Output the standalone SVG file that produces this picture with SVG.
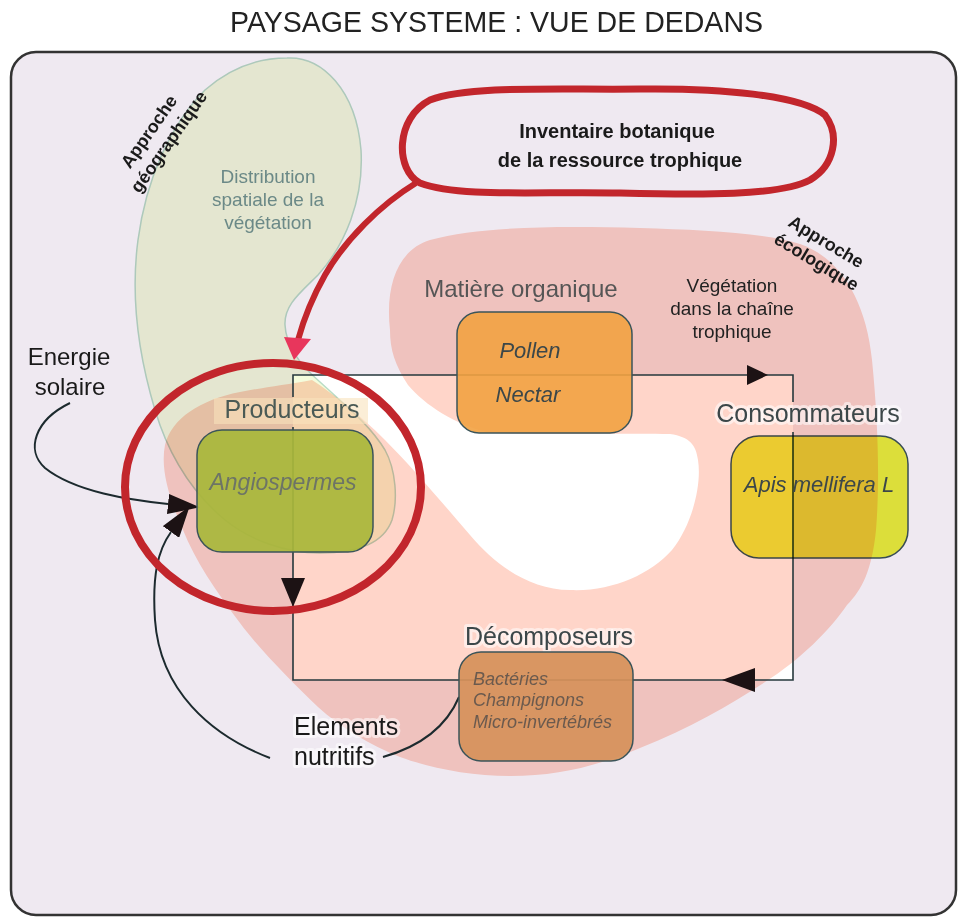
<svg xmlns="http://www.w3.org/2000/svg" width="959" height="919" viewBox="0 0 959 919">
<defs>
<style>
text{font-family:"Liberation Sans",Arial,sans-serif}
.lbl{fill:#3c4749}
.it{font-style:italic}
.halo{paint-order:stroke;stroke:#ffffff;stroke-opacity:0.55;stroke-width:6;stroke-linejoin:round}
.box{stroke:#3b5459;stroke-width:1.5}
.conn{fill:none;stroke:#26383c;stroke-width:1.6}
.ah{fill:#1c1214}
.curve{fill:none;stroke:#1c2a2e;stroke-width:2}
.red{fill:none;stroke:#c2262c;stroke-width:7}
.mult{mix-blend-mode:multiply}
.appr{font-size:18px;font-weight:bold;fill:#1a1a1a;text-anchor:middle}
</style>
<marker id="blk" markerUnits="userSpaceOnUse" viewBox="0 0 32 20" refX="0" refY="10" markerWidth="32" markerHeight="20" orient="auto">
<path d="M0,0 L32,10 L0,20 Z" fill="#1c1214"/>
</marker>
</defs>

<rect width="959" height="919" fill="#ffffff"/>
<text x="230" y="32" font-size="30" fill="#222" textLength="533" lengthAdjust="spacingAndGlyphs">PAYSAGE SYSTEME : VUE DE DEDANS</text>

<g id="frame">
<rect x="11" y="52" width="945" height="863" rx="25" fill="#efe9f1" stroke="#333" stroke-width="2.5"/>
</g>

<g id="zones">
<rect id="inner-white" x="293" y="375" width="500" height="305" fill="#ffffff"/>
<path id="approche-ecologique-zone" class="mult" fill="#ffd5c9" d="M390,330 C385,285 398,250 430,240 C480,226 560,226 640,228 C700,230 760,232 800,244 C840,258 866,300 872,360 C878,420 880,480 876,530 C872,570 862,590 847,605 C830,630 800,660 765,682 C730,705 690,728 640,748 C600,765 560,776 510,776 C470,776 430,768 400,757 C370,745 340,727 318,707 C290,680 260,650 240,623 C215,590 195,560 183,530 C170,500 160,470 165,445 C172,418 200,400 240,392 C260,388 285,385 312,380 C335,395 360,415 385,440 C410,465 440,500 470,535 C495,565 530,590 570,590 C610,592 650,575 672,550 C692,525 702,485 698,460 C696,445 690,437 670,434 C630,433 560,435 490,433 C455,425 425,405 408,385 C395,365 390,350 390,330 Z"/>
<path id="approche-geographique-zone" class="mult" fill="#f4fcdc" stroke="#b9dcc6" stroke-width="1.5" d="M287,58 C322,56 356,90 361,150 C364,200 345,245 318,275 C300,293 284,305 285,325 C286,345 300,365 320,382 C345,405 370,425 385,450 C396,470 398,500 392,520 C383,545 355,553 320,553 C285,553 250,540 225,520 C195,495 170,460 155,410 C140,360 130,300 138,240 C146,180 170,125 205,90 C230,68 258,58 287,58 Z"/>
</g>

<g id="zone-labels">
<g transform="translate(154,135) rotate(-55)">
<text class="appr" x="0" y="0">Approche</text>
<text class="appr" x="3" y="22">géographique</text>
</g>
<text font-size="19" fill="#6b8987" text-anchor="middle"><tspan x="268" y="183">Distribution</tspan><tspan x="268" y="206">spatiale de la</tspan><tspan x="268" y="229">végétation</tspan></text>
<g transform="translate(823,247) rotate(31)">
<text class="appr" x="0" y="0">Approche</text>
<text class="appr" x="2" y="22">écologique</text>
</g>
<text font-size="19" fill="#222" text-anchor="middle"><tspan x="732" y="292">Végétation</tspan><tspan x="732" y="315">dans la chaîne</tspan><tspan x="732" y="338">trophique</tspan></text>
</g>

<g id="connectors">
<path class="conn" d="M293,397 V375 H793 V402"/>
<path class="conn" d="M793,432 V680 H293 V427"/>
<polygon class="ah" points="747,365 768,375 747,385"/>
<polygon class="ah" points="755,668 722,680 755,692"/>
<polygon class="ah" points="281,578 305,578 293,607"/>
<path class="curve" d="M70,403 C35,420 25,450 45,468 C75,492 130,500 168,504" marker-end="url(#blk)"/>
<path class="curve" d="M270,758 C210,735 160,690 155,620 C152,575 158,550 171,532" marker-end="url(#blk)"/>
<path class="curve" d="M383,757 C415,748 445,730 459,697"/>
<path d="M416,183 C380,205 345,240 325,275 C312,298 304,318 298,340" fill="none" stroke="#c2262c" stroke-width="6"/>
<polygon points="284,337 311,339 294,360" fill="#e8365c"/>
</g>

<g id="matiere-organique">
<text x="521" y="297" font-size="24" fill="#555" text-anchor="middle">Matière organique</text>
<rect class="box" x="457" y="312" width="175" height="121" rx="22" fill="#f2a241" fill-opacity="0.9"/>
<text class="lbl it" x="530" y="358" font-size="22" text-anchor="middle">Pollen</text>
<text class="lbl it" x="528" y="402" font-size="22" text-anchor="middle">Nectar</text>
</g>

<g id="producteurs">
<rect x="214" y="398" width="154" height="26" fill="#f8e2bd" opacity="0.6"/>
<text x="292" y="418" font-size="25" fill="#4a5a55" text-anchor="middle">Producteurs</text>
<rect class="box" x="197" y="430" width="176" height="122" rx="25" fill="#a9b73b" fill-opacity="0.93"/>
<text class="it" x="283" y="490" font-size="23" fill="#6d7466" text-anchor="middle">Angiospermes</text>
</g>

<g id="consommateurs">
<text class="lbl halo" x="808" y="422" font-size="25" text-anchor="middle">Consommateurs</text>
<rect class="box mult" x="731" y="436" width="177" height="122" rx="28" fill="#ebf33d"/>
<text class="lbl it" x="819" y="492" font-size="22" text-anchor="middle">Apis mellifera L</text>
</g>

<g id="decomposeurs">
<text class="lbl halo" x="549" y="645" font-size="25" text-anchor="middle">Décomposeurs</text>
<rect class="box" x="459" y="652" width="174" height="109" rx="22" fill="#d6915a" fill-opacity="0.93"/>
<text class="it" font-size="18" fill="#6b5a4e"><tspan x="473" y="685">Bactéries</tspan><tspan x="473" y="706">Champignons</tspan><tspan x="473" y="728">Micro-invertébrés</tspan></text>
</g>

<g id="energie-solaire">
<text x="69" y="365" font-size="24" fill="#1a1a1a" text-anchor="middle">Energie</text>
<text x="70" y="395" font-size="24" fill="#1a1a1a" text-anchor="middle">solaire</text>
</g>

<g id="elements-nutritifs">
<text class="halo" x="294" y="735" font-size="25" fill="#1a1a1a">Elements</text>
<text class="halo" x="294" y="765" font-size="25" fill="#1a1a1a">nutritifs</text>
</g>

<g id="inventaire-botanique">
<path class="red" d="M420,183 C395,170 395,118 430,100 C470,85 560,90 640,89 C720,88 800,95 825,115 C840,135 835,165 810,180 C780,196 700,195 620,193 C540,191 460,198 420,183 Z"/>
<text x="617" y="138" font-size="20" font-weight="bold" fill="#1a1a1a" text-anchor="middle">Inventaire botanique</text>
<text x="620" y="167" font-size="20" font-weight="bold" fill="#1a1a1a" text-anchor="middle">de la ressource trophique</text>
</g>

<g id="cercle-producteurs">
<ellipse cx="273" cy="487" rx="148" ry="124" fill="none" stroke="#c2262c" stroke-width="8"/>
</g>
</svg>
